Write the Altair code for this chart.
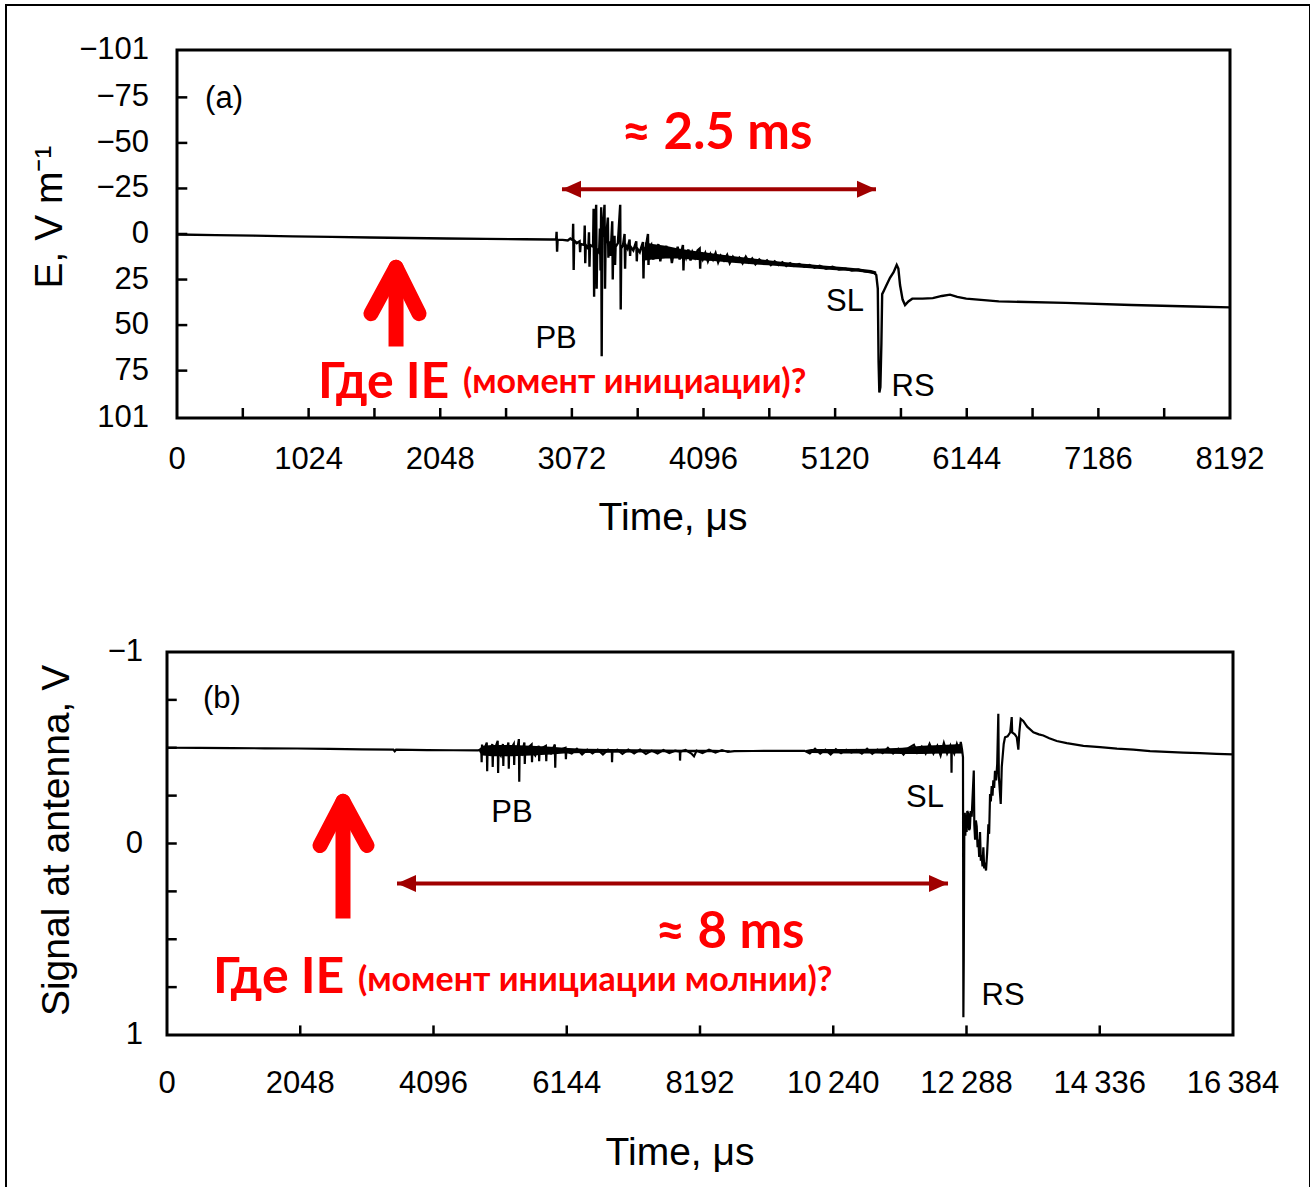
import altair as alt
import pandas as pd

FONT = "Liberation Sans"
RED_FONT = "Lato"
RED = "#ff0000"
DARK_RED = "#a00000"

# ---------------- panel (a): E-field record, 0 .. 8192 us ----------------
A_X_DOMAIN = [0, 8192]
A_Y_DOMAIN = [-101, 101]
A_X_VALUES = [0, 1024, 2048, 3072, 4096, 5120, 6144, 7168, 8192]
A_X_LABELS = ["0", "1024", "2048", "3072", "4096", "5120", "6144", "7186", "8192"]
A_X_TICKS = [512, 1024, 1536, 2048, 2560, 3072, 3584, 4096, 4608, 5120, 5632,
             6144, 6656, 7168, 7680]
A_Y_VALUES = [-101, -75, -50, -25, 0, 25, 50, 75, 101]
A_Y_LABELS = ["\u2212101", "\u221275", "\u221250", "\u221225", "0", "25", "50", "75", "101"]
A_Y_TICKS = [-75, -50, -25, 0, 25, 50, 75]
A_X_TITLE = ("Time, \u03bcs", 3859, 162.7)
A_Y_TITLE = ("E, V m\u207b\u00b9", -895, -9.3)

# (time in us, E in V/m)
A_TRACE = [
    (0, 0.3), (300, 0.6), (600, 0.9), (900, 1.3), (1200, 1.6), (1500, 1.9),
    (1800, 2.2), (2100, 2.5), (2400, 2.7), (2700, 2.9), (2900, 3.0),
    (2950, 3.0), (2953, -1.2), (2957, 9.7), (2961, 3.1),
    (3000, 3.2), (3040, 3.6), (3060, 2.5), (3079, 3.4),
    (3082, -5.6), (3086, 19.8), (3090, 3.5),
    (3110, 5.0), (3132, 4.0), (3136, 10.0), (3140, 5.5),
    (3168, 6.0), (3172, -4.7), (3176, 16.0), (3180, 6.0),
    (3200, 8.0), (3205, -1.0), (3209, 18.0), (3213, 6.0),
    (3237, 7.0), (3241, -13.8), (3245, 34.4), (3249, 5.0),
    (3261, -16.0), (3265, 30.0), (3269, 8.0),
    (3284, 10.0), (3290, -3.0), (3295, 20.0),
    (3300, -14.7), (3304, 67.1), (3308, 2.0),
    (3326, -16.0), (3330, 30.0), (3334, 6.0),
    (3352, -9.0), (3356, 13.0), (3360, 4.0),
    (3373, 12.0), (3386, -7.0), (3390, 25.0), (3394, 6.0),
    (3404, 1.0), (3408, 17.0), (3412, 7.0),
    (3430, 5.0), (3448, -16.0), (3452, 41.4), (3456, 8.0),
    (3470, 6.0), (3482, 0.0), (3486, 19.0), (3490, 6.0),
    (3505, 8.0), (3521, 3.0), (3525, 12.0), (3529, 7.0),
    (3550, 9.0), (3573, 4.0), (3577, 15.0), (3581, 8.0),
    (3600, 10.0), (3625, 4.4), (3629, 24.4), (3633, 9.0),
    (3648, 7.0), (3664, 0.0), (3668, 17.0), (3672, 8.0),
    (3690, 6.0), (3705, 14.0), (3718, 7.0), (3730, 12.0), (3745, 5.5),
    (3760, 15.0), (3775, 8.0), (3790, 13.0), (3805, 6.5), (3820, 11.0),
    (3836, 8.0), (3850, 16.0), (3866, 9.0), (3880, 12.5), (3895, 7.0),
    (3910, 14.0), (3925, 9.5), (3936, 6.0), (3940, 20.0), (3945, 10.0),
    (3960, 13.0), (3978, 8.5), (3995, 14.5), (4010, 10.0), (4030, 13.0),
    (4050, 9.0), (4066, 8.0), (4070, 19.0), (4074, 11.0), (4090, 14.0),
    (4110, 10.5), (4130, 15.0), (4150, 11.0), (4170, 14.0), (4190, 10.5),
    (4210, 15.5), (4230, 12.0), (4255, 14.5), (4280, 11.5), (4300, 16.0),
    (4325, 12.5), (4350, 15.0), (4375, 13.0), (4400, 16.0), (4425, 12.5),
    (4450, 15.5), (4475, 13.5), (4500, 16.5), (4530, 14.0), (4560, 16.0),
    (4590, 14.5), (4620, 17.0), (4650, 15.0), (4680, 17.0), (4710, 15.5),
    (4740, 17.5), (4770, 16.0), (4800, 17.5), (4840, 16.5), (4880, 18.0),
    (4920, 17.0), (4960, 18.5), (5000, 17.5), (5050, 19.0), (5100, 18.0),
    (5150, 19.5), (5200, 19.0), (5250, 20.0), (5300, 19.5), (5350, 20.5),
    (5400, 21.0), (5425, 21.5), (5440, 22.5),
    (5452, 30.0), (5458, 70.0), (5464, 87.0), (5472, 84.0), (5480, 60.0),
    (5486, 33.0), (5500, 31.0), (5520, 28.0), (5547, 24.0), (5575, 21.0),
    (5599, 17.0), (5612, 19.0), (5625, 28.0), (5645, 36.0), (5664, 39.0),
    (5690, 37.0), (5720, 35.5), (5800, 35.5), (5880, 35.2), (5950, 34.0),
    (6014, 33.3), (6070, 34.5), (6140, 35.5), (6393, 37.0), (6913, 37.8),
    (7426, 39.0), (7900, 39.8), (8192, 40.3),
]

# noisy envelope of the record between the PB burst and the stepped leader
# (segment, time, lower edge, upper edge)
A_BAND = [
    (1, 3640, 4.5, 14.5), (1, 3700, 5.5, 14.0), (1, 3800, 6.5, 13.5), (1, 3900, 8.0, 13.5),
    (1, 4000, 9.0, 14.0), (1, 4100, 10.0, 14.5), (1, 4200, 11.0, 15.0), (1, 4300, 12.0, 15.6),
    (1, 4400, 12.8, 16.2), (1, 4500, 13.6, 16.8), (1, 4600, 14.4, 17.2), (1, 4700, 15.2, 17.7),
    (1, 4800, 15.9, 18.2), (1, 4900, 16.5, 18.7), (1, 5000, 17.1, 19.2), (1, 5100, 17.7, 19.7),
    (1, 5200, 18.3, 20.2), (1, 5300, 18.9, 20.7), (1, 5400, 19.7, 21.5), (1, 5440, 20.6, 22.4),
]

A_TAGS = [("PB", 2949, 57.9), ("SL", 5197, 37.1), ("RS", 5726, 84.1), ("(a)", 366, -74.2)]
A_SPAN = {"t": 2995, "t2": 5438, "v": -24.6}
A_SPAN_TEXT = {"text": "\u2248 2.5 ms", "t": 4201, "v": -46.9}
A_PROMPT = [("Где IE", 1097, 90.1), ("(момент инициации)?", 2225, 87.3)]
A_ARROW = {"tip": (1704, 18.3), "arms": [(1509, 43.7), (1883, 43.7)], "shaft": (20.7, 61.7)}

# ---------------- panel (b): antenna signal, 0 .. 16384 us ----------------
B_X_DOMAIN = [0, 16384]
B_Y_DOMAIN = [-1, 1]
B_X_VALUES = [0, 2048, 4096, 6144, 8192, 10240, 12288, 14336, 16384]
B_X_LABELS = ["0", "2048", "4096", "6144", "8192", "10\u2009240", "12\u2009288",
              "14\u2009336", "16\u2009384"]
B_X_TICKS = [2048, 4096, 6144, 8192, 10240, 12288, 14336]
B_Y_VALUES = [-1, 0, 1]
B_Y_LABELS = ["\u22121", "0", "1"]
B_Y_TICKS = [-0.75, -0.5, -0.25, 0, 0.25, 0.5, 0.75]
B_X_TITLE = ("Time, \u03bcs", 7885, 1.681)
B_Y_TITLE = ("Signal at antenna, V", -1506, -0.016)

# (time in us, signal in V)
B_TRACE = [
    (0, -0.500), (500, -0.499), (1000, -0.498), (1500, -0.497), (2000, -0.496),
    (2500, -0.494), (3000, -0.492), (3480, -0.490), (3500, -0.482), (3520, -0.490),
    (4000, -0.488), (4400, -0.487), (4780, -0.486),
    (4830, -0.49), (4836, -0.424), (4842, -0.517), (4848, -0.48),
    (4880, -0.495), (4915, -0.527), (4921, -0.377), (4927, -0.49),
    (4960, -0.47), (5000, -0.52), (5006, -0.40), (5012, -0.48),
    (5045, -0.50), (5083, -0.536), (5089, -0.368), (5095, -0.48),
    (5130, -0.46), (5163, -0.52), (5169, -0.405), (5175, -0.49),
    (5210, -0.47), (5247, -0.527), (5253, -0.39), (5259, -0.48),
    (5295, -0.50), (5330, -0.52), (5336, -0.41), (5342, -0.48),
    (5375, -0.47), (5408, -0.545), (5414, -0.322), (5420, -0.49),
    (5455, -0.47), (5493, -0.527), (5499, -0.415), (5505, -0.48),
    (5550, -0.50), (5604, -0.517), (5610, -0.424), (5616, -0.48),
    (5660, -0.46), (5714, -0.51), (5720, -0.43), (5726, -0.48),
    (5770, -0.50), (5823, -0.51), (5829, -0.43), (5835, -0.48),
    (5900, -0.47), (5961, -0.517), (5967, -0.396), (5973, -0.48),
    (6040, -0.49), (6125, -0.50), (6131, -0.44), (6137, -0.48),
    (6220, -0.47), (6300, -0.495), (6380, -0.465), (6460, -0.49), (6540, -0.47),
    (6620, -0.49), (6700, -0.465), (6780, -0.49), (6837, -0.48), (6840, -0.424),
    (6846, -0.48), (6920, -0.49), (7000, -0.468), (7090, -0.49), (7180, -0.47),
    (7270, -0.49), (7360, -0.468), (7450, -0.485), (7540, -0.47), (7630, -0.488),
    (7720, -0.472), (7810, -0.485), (7882, -0.48), (7885, -0.433), (7891, -0.48),
    (7970, -0.488), (8060, -0.47), (8100, -0.455), (8140, -0.485), (8230, -0.472),
    (8330, -0.49), (8430, -0.475), (8530, -0.488), (8620, -0.478),
    (8720, -0.482), (9000, -0.483), (9300, -0.484), (9600, -0.484), (9800, -0.484),
    (9880, -0.47), (9960, -0.495), (10040, -0.47), (10120, -0.49), (10200, -0.465),
    (10280, -0.492), (10360, -0.472), (10440, -0.49), (10520, -0.475), (10600, -0.488),
    (10680, -0.47), (10760, -0.495), (10840, -0.468), (10920, -0.49), (11000, -0.472),
    (11080, -0.50), (11160, -0.47), (11240, -0.495), (11320, -0.465), (11400, -0.50),
    (11480, -0.515), (11530, -0.475), (11600, -0.505), (11660, -0.47), (11720, -0.52),
    (11780, -0.47), (11840, -0.51), (11890, -0.46), (11940, -0.525), (11990, -0.47),
    (12040, -0.51), (12054, -0.49), (12058, -0.37), (12062, -0.50), (12100, -0.47),
    (12140, -0.52), (12180, -0.48), (12200, -0.53), (12220, -0.49),
    (12234, -0.45), (12240, 0.907), (12246, 0.60), (12254, -0.05), (12262, -0.16),
    (12270, -0.04), (12280, -0.15), (12290, -0.06), (12300, -0.17), (12316, -0.155),
    (12328, -0.07), (12340, -0.08), (12352, -0.17), (12368, -0.14), (12400, -0.381),
    (12408, -0.10), (12420, -0.02), (12432, -0.12), (12445, -0.09), (12458, 0.02),
    (12470, -0.02), (12483, 0.07), (12496, -0.06), (12508, 0.09), (12520, 0.06),
    (12534, 0.12), (12547, 0.02), (12560, 0.13), (12570, 0.10), (12588, 0.141),
    (12605, 0.05), (12615, -0.02), (12624, -0.10), (12636, -0.05), (12650, -0.259),
    (12662, -0.22), (12675, -0.30), (12688, -0.25), (12700, -0.33), (12713, -0.29),
    (12726, -0.38), (12743, -0.33), (12760, -0.416), (12777, -0.677), (12785, -0.35),
    (12814, -0.207), (12830, -0.40), (12860, -0.52), (12880, -0.555), (12920, -0.56),
    (12960, -0.58), (12983, -0.660), (12990, -0.58), (13030, -0.57), (13060, -0.555),
    (13085, -0.49), (13100, -0.58), (13121, -0.651), (13160, -0.64), (13220, -0.61),
    (13316, -0.581), (13400, -0.57), (13469, -0.564), (13560, -0.55), (13675, -0.535),
    (13829, -0.524), (14085, -0.51), (14340, -0.503), (14600, -0.495), (14853, -0.49),
    (15109, -0.482), (15365, -0.478), (15620, -0.475), (15877, -0.472), (16130, -0.468),
    (16384, -0.465),
]

B_BAND = [
    (1, 4800, -0.495, -0.478), (1, 4850, -0.51, -0.46), (1, 5000, -0.515, -0.455),
    (1, 5300, -0.515, -0.455), (1, 5600, -0.51, -0.46), (1, 5900, -0.505, -0.465),
    (1, 6100, -0.50, -0.47), (1, 6400, -0.495, -0.472), (1, 6800, -0.493, -0.474),
    (1, 7200, -0.492, -0.475), (1, 7600, -0.491, -0.476), (1, 8000, -0.49, -0.476),
    (1, 8400, -0.489, -0.477), (1, 8650, -0.487, -0.479),
    (2, 9820, -0.488, -0.48), (2, 9900, -0.494, -0.472), (2, 10400, -0.494, -0.47),
    (2, 10900, -0.495, -0.47), (2, 11300, -0.50, -0.468), (2, 11600, -0.51, -0.468),
    (2, 11900, -0.515, -0.47), (2, 12220, -0.52, -0.47),
]

B_TAGS = [("PB", 5303, -0.157), ("SL", 11650, -0.240), ("RS", 12850, 0.794), ("(b)", 845, -0.752)]
B_SPAN = {"t": 3535, "t2": 12004, "v": 0.209}
B_SPAN_TEXT = {"text": "\u2248 8 ms", "t": 8653, "v": 0.548}
B_PROMPT = [("Где IE", 707, 0.783), ("(момент инициации молнии)?", 2936, 0.768)]
B_ARROW = {"tip": (2705, -0.220), "arms": [(2352, 0.0104), (3074, 0.0104)], "shaft": (-0.198, 0.392)}

# canvas: the outer frame is the view rectangle itself
W, H = 1304, 1190
HEAD_LEFT = "M 0 0 L 1.9 -0.85 L 1.9 0.85 Z"
HEAD_RIGHT = "M 0 0 L -1.9 -0.85 L -1.9 0.85 Z"


def xy(xs, ys, x="t", y="v", x2=None, y2=None):
    enc = dict(x=alt.X(f"{x}:Q", scale=xs, axis=None),
               y=alt.Y(f"{y}:Q", scale=ys, axis=None))
    if x2:
        enc["x2"] = alt.X2(f"{x2}:Q")
    if y2:
        enc["y2"] = alt.Y2(f"{y2}:Q")
    return enc


def panel(trace, band, x_dom, y_dom, x_rng, y_rng,
          x_values, x_labels, y_values, y_labels, x_pad, y_pad, x_title, y_title,
          x_ticks, y_ticks, tick_dy, tick_dt, tags, span, span_text, prompt, arrow,
          line_width):
    xs = alt.Scale(domain=x_dom, range=x_rng, nice=False, zero=False)
    ys = alt.Scale(domain=y_dom, range=y_rng, nice=False, zero=False)

    band_df = pd.DataFrame(band, columns=["seg", "t", "v", "v2"])
    noise = alt.Chart(band_df).mark_area(color="black", opacity=1, interpolate="linear").encode(
        detail="seg:N", **xy(xs, ys, y2="v2"))

    signal = alt.Chart(pd.DataFrame(trace, columns=["t", "v"])).mark_line(
        color="black", strokeWidth=line_width
    ).encode(**xy(xs, ys))

    frame = alt.Chart(pd.DataFrame({"t": [x_dom[0]], "t2": [x_dom[1]],
                                    "v": [y_dom[0]], "v2": [y_dom[1]]})).mark_rect(
        fillOpacity=0, stroke="black", strokeWidth=3
    ).encode(**xy(xs, ys, x2="t2", y2="v2"))

    xt = pd.DataFrame({"t": x_ticks, "v": y_dom[1], "v2": y_dom[1] - tick_dy})
    x_tick_marks = alt.Chart(xt).mark_rule(color="black", strokeWidth=2.5).encode(
        **xy(xs, ys, y2="v2"))
    yt = pd.DataFrame({"v": y_ticks, "t": x_dom[0], "t2": x_dom[0] + tick_dt})
    y_tick_marks = alt.Chart(yt).mark_rule(color="black", strokeWidth=2.5).encode(
        **xy(xs, ys, x2="t2"))

    # tick labels
    xl = pd.DataFrame({"t": x_values, "label": x_labels, "v": y_dom[1]})
    x_label_marks = alt.Chart(xl).mark_text(
        font=FONT, fontSize=31, color="black", align="center", baseline="alphabetic", dy=x_pad
    ).encode(text="label:N", **xy(xs, ys))
    yl = pd.DataFrame({"v": y_values, "label": y_labels, "t": x_dom[0]})
    y_label_marks = alt.Chart(yl).mark_text(
        font=FONT, fontSize=31, color="black", align="right", baseline="middle", dx=-y_pad
    ).encode(text="label:N", **xy(xs, ys))

    # axis titles
    x_title_mark = alt.Chart(pd.DataFrame([x_title], columns=["label", "t", "v"])).mark_text(
        font=FONT, fontSize=39, color="black", align="center", baseline="alphabetic"
    ).encode(text="label:N", **xy(xs, ys))
    y_title_mark = alt.Chart(pd.DataFrame([y_title], columns=["label", "t", "v"])).mark_text(
        font=FONT, fontSize=39, color="black", align="center", baseline="alphabetic", angle=270
    ).encode(text="label:N", **xy(xs, ys))

    tag_df = pd.DataFrame(tags, columns=["label", "t", "v"])
    tag_text = alt.Chart(tag_df).mark_text(
        font=FONT, fontSize=31, color="black", align="center", baseline="middle"
    ).encode(text="label:N", **xy(xs, ys))

    span_line = alt.Chart(pd.DataFrame([span])).mark_rule(
        color=DARK_RED, strokeWidth=4).encode(**xy(xs, ys, x2="t2"))
    head_l = alt.Chart(pd.DataFrame([{"t": span["t"], "v": span["v"]}])).mark_point(
        shape=HEAD_LEFT, size=400, filled=True, color=DARK_RED, opacity=1
    ).encode(**xy(xs, ys))
    head_r = alt.Chart(pd.DataFrame([{"t": span["t2"], "v": span["v"]}])).mark_point(
        shape=HEAD_RIGHT, size=400, filled=True, color=DARK_RED, opacity=1
    ).encode(**xy(xs, ys))
    span_label = alt.Chart(pd.DataFrame([span_text])).mark_text(
        font=RED_FONT, fontWeight="bold", fontSize=51, color=RED,
        align="center", baseline="alphabetic"
    ).encode(text="text:N", **xy(xs, ys))

    prompt_big = alt.Chart(pd.DataFrame([prompt[0]], columns=["label", "t", "v"])).mark_text(
        font=RED_FONT, fontWeight="bold", fontSize=50, color=RED,
        align="left", baseline="alphabetic"
    ).encode(text="label:N", **xy(xs, ys))
    prompt_small = alt.Chart(pd.DataFrame([prompt[1]], columns=["label", "t", "v"])).mark_text(
        font=RED_FONT, fontWeight="bold", fontSize=34, color=RED,
        align="left", baseline="alphabetic"
    ).encode(text="label:N", **xy(xs, ys))

    tip_t, tip_v = arrow["tip"]
    shaft = alt.Chart(pd.DataFrame([{"t": tip_t, "v": arrow["shaft"][1],
                                     "v2": arrow["shaft"][0]}])).mark_rule(
        color=RED, strokeWidth=15, strokeCap="butt"
    ).encode(**xy(xs, ys, y2="v2"))
    arms = alt.Chart(pd.DataFrame([{"t": tip_t, "v": tip_v, "t2": a[0], "v2": a[1]}
                                   for a in arrow["arms"]])).mark_rule(
        color=RED, strokeWidth=15, strokeCap="round"
    ).encode(**xy(xs, ys, x2="t2", y2="v2"))

    return alt.layer(noise, signal, frame, x_tick_marks, y_tick_marks,
                     x_label_marks, y_label_marks, x_title_mark, y_title_mark, tag_text,
                     span_line, head_l, head_r, span_label,
                     prompt_big, prompt_small, shaft, arms)


panel_a = panel(
    A_TRACE, A_BAND, A_X_DOMAIN, A_Y_DOMAIN, [171, 1224], [45, 413],
    A_X_VALUES, A_X_LABELS, A_Y_VALUES, A_Y_LABELS, 51, 28, A_X_TITLE, A_Y_TITLE,
    A_X_TICKS, A_Y_TICKS, 5.5, 80, A_TAGS, A_SPAN, A_SPAN_TEXT, A_PROMPT, A_ARROW, 2.4,
)

panel_b = panel(
    B_TRACE, B_BAND, B_X_DOMAIN, B_Y_DOMAIN, [161, 1227], [647, 1030],
    B_X_VALUES, B_X_LABELS, B_Y_VALUES, B_Y_LABELS, 58, 24, B_X_TITLE, B_Y_TITLE,
    B_X_TICKS, B_Y_TICKS, 0.05, 150, B_TAGS, B_SPAN, B_SPAN_TEXT, B_PROMPT, B_ARROW, 2.2,
)

chart = alt.layer(panel_a, panel_b).resolve_scale(
    x="independent", y="independent"
).properties(
    width=W, height=H,
    padding={"left": 6, "top": 5, "right": 0, "bottom": 0},
    autosize=alt.AutoSizeParams(type="none"),
).configure(
    background="white",
    view=alt.ViewConfig(stroke="black", strokeWidth=2),
)

chart.save("out.html", embed_options={"renderer": "svg", "actions": False})
